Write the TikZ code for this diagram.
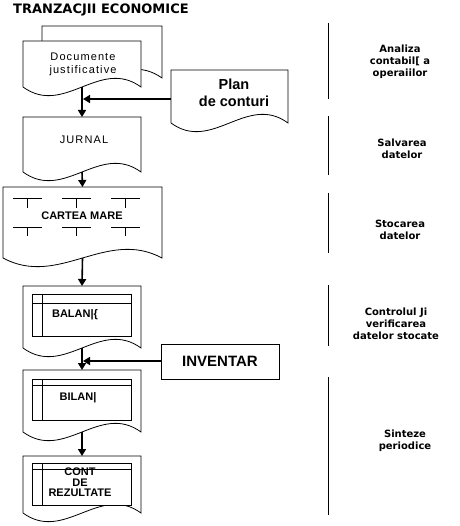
\documentclass[tikz,border=0pt]{standalone}
\usepackage{fontspec}
\setmainfont{Liberation Sans}
\newfontfamily\heavy{DejaVu Sans}
\newfontfamily\spaced{Liberation Sans}[LetterSpace=10]
\usetikzlibrary{arrows.meta,calc}
\tikzset{
  shp/.style={draw=black, line width=0.8pt, fill=white},
  body/.style={rectangle, draw=none, inner sep=0pt, outer sep=0pt},
  arr/.style={line width=1.6pt, -{Triangle[length=7pt,width=8pt]}},
  sep/.style={line width=0.8pt},
  lbl/.style={font=\heavy\bfseries\fontsize{10}{12}\selectfont, align=center, inner sep=0pt},
  txt/.style={align=center, inner sep=0pt},
}
\newcommand\docshape[5]{%
  \node[body, minimum width={(#4-#2)*1pt}, minimum height={(#5-#3)*1pt}] (#1) at ({(#2+#4)/2},{(#3+#5)/2}) {};
  \draw[shp] (#1.south east) -- (#1.north east) -- (#1.north west) -- (#1.south west)
    .. controls ($(#1.south west)!0.35!(#1.south east)+(0,30)$) and ($(#1.south west)!0.65!(#1.south east)+(0,-30)$) .. (#1.south east) -- cycle;}
\newcommand\ledger[3]{%
  \draw[shp] (32,#1) rectangle (131,#3);
  \draw[sep] (32,#2) -- (131,#2);
  \draw[sep] (42,#1) -- (42,#3);}
\begin{document}
\begin{tikzpicture}[x=1pt,y=-1pt]
\useasboundingbox (0,0) rectangle (459,526);
% title
\node[anchor=west, inner sep=0pt, font=\heavy\bfseries\fontsize{13}{15}\selectfont] (title) at (13,10) {TRANZACJII ECONOMICE};
% document shapes
\docshape{back}{42}{26}{162}{78}
\docshape{docs}{23}{41}{141}{87}
\docshape{plan}{171}{70}{288}{123}
\docshape{jurnal}{23}{117}{141}{172}
\docshape{carte}{3}{187}{162}{258}
\docshape{balanta}{23}{286}{141}{348}
\docshape{bilan}{23}{370}{141}{432}
\docshape{cont}{23}{456}{141}{513}
% T marks in CARTEA MARE
\foreach \x in {13,62,111}{
  \draw[sep] (\x,198) -- ++(29,0) ({\x+14.5},198) -- ++(0,10);
  \draw[sep] (\x,227) -- ++(29,0) ({\x+14.5},227) -- ++(0,9);
}
% ledger frames
\ledger{294}{303}{336}
\ledger{379}{385}{420}
\ledger{463}{469}{505}
% inventar
\node[draw, line width=0.8pt, minimum width=118pt, minimum height=35pt, inner sep=0pt, font=\bfseries\fontsize{15}{18}\selectfont] (inv) at (220,361.5) {INVENTAR};
% texts
\node[txt, font=\spaced\fontsize{11}{13}\selectfont] (tdocs) at (83,64) {Documente\\justificative};
\node[txt, font=\bfseries\fontsize{14.5}{17}\selectfont] (tplan) at (234,93) {Plan\\de conturi};
\node[txt, font=\spaced\fontsize{11}{13}\selectfont] (tjur) at (84,140) {JURNAL};
\node[txt, font=\bfseries\fontsize{11}{13}\selectfont] (tcarte) at (82,216) {CARTEA MARE};
\node[txt, font=\bfseries\fontsize{11}{13}\selectfont] (tbal) at (75,315) {BALAN|\{};
\node[txt, font=\bfseries\fontsize{11}{13}\selectfont] (tbil) at (78,398) {BILAN|};
\node[txt, font=\bfseries\fontsize{11}{10.5}\selectfont] (tcont) at (80,482.5) {CONT\\DE\\REZULTATE};
% connectors
\coordinate (m1) at (83,99);
\coordinate (m2) at (83,361);
\draw[arr] (docs.south) -- (jurnal.north);
\draw[arr] (plan.west |- m1) -- (m1);
\draw[arr] (jurnal.south) -- (carte.north);
\draw[arr] (carte.south) -- (balanta.north);
\draw[arr] (balanta.south) -- (bilan.north);
\draw[arr] (inv.west |- m2) -- (m2);
\draw[arr] (bilan.south) -- (cont.north);
% separators
\draw[sep] (328,23) -- (328,99);
\draw[sep] (328,116) -- (328,175);
\draw[sep] (328,193) -- (328,253);
\draw[sep] (328,285) -- (328,346);
\draw[sep] (328,377) -- (328,515);
% right labels
\node[lbl] (l1) at (400,62) {Analiza\\contabil[ a\\operaiilor};
\node[lbl] (l2) at (402,149) {Salvarea\\datelor};
\node[lbl] (l3) at (400,229.5) {Stocarea\\datelor};
\node[lbl] (l4) at (396,323.5) {Controlul Ji\\verificarea\\datelor stocate};
\node[lbl] (l5) at (405,441) {Sinteze\\periodice};
\end{tikzpicture}
\end{document}
